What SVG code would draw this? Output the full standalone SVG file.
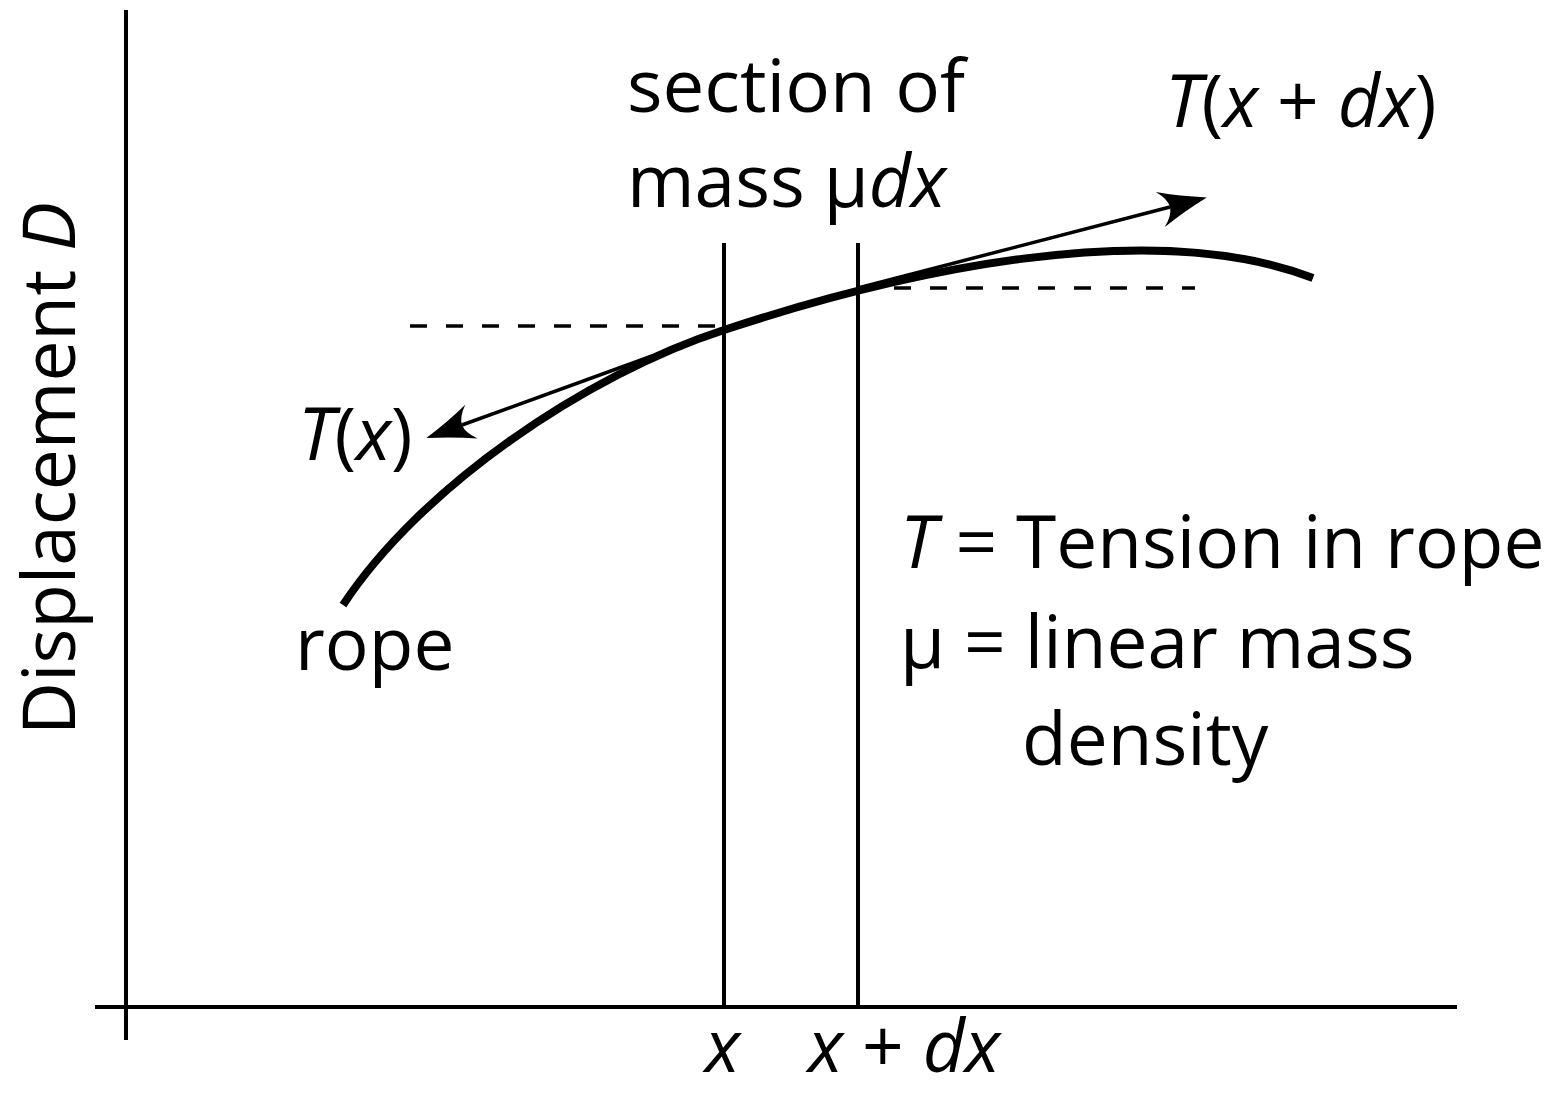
<svg xmlns="http://www.w3.org/2000/svg" width="1554" height="1093" viewBox="0 0 1554 1093">
<style>
.t{font-family:"Open Sans","Liberation Sans",sans-serif;font-size:73px;fill:#000}
.i{font-style:italic}
.ax{stroke:#000;stroke-width:4;fill:none}
.dash{stroke:#000;stroke-width:3.5;stroke-dasharray:17,19;fill:none}
.rope{stroke:#000;stroke-width:8;fill:none}
.vec{stroke:#000;stroke-width:3.5;fill:none;marker-end:url(#ah)}
</style>
<defs>
<marker id="ah" markerUnits="userSpaceOnUse" orient="auto" refX="0" refY="0" markerWidth="60" markerHeight="40" viewBox="-12 -20 52 40" overflow="visible">
<path d="M38,0 Q12,-8 -10,-18 Q0,-8 0,0 Q0,8 -10,18 Q12,8 38,0 Z" fill="#000"/>
</marker>
</defs>
<g id="axes">
<line class="ax" x1="126" y1="10" x2="126" y2="1040"/>
<line class="ax" x1="95" y1="1007" x2="1457" y2="1007"/>
</g>
<g id="section-lines">
<line class="ax" x1="724" y1="243" x2="724" y2="1007"/>
<line class="ax" x1="858" y1="243" x2="858" y2="1007"/>
<line class="dash" x1="410" y1="326" x2="724" y2="326"/>
<line class="dash" x1="858" y1="288" x2="1195" y2="288"/>
</g>
<g id="rope">
<path class="rope" d="M343,605 C420,488 585,375 724,330 C900,272 1150,215 1313,278"/>
</g>
<g id="connectors">
<line class="vec" x1="652" y1="356" x2="462" y2="425"/>
<line class="vec" x1="858" y1="288" x2="1170" y2="207"/>
</g>
<g id="labels">
<text class="t" x="627" y="112" textLength="338" lengthAdjust="spacingAndGlyphs">section of</text>
<text class="t" x="627" y="207">mass μ<tspan class="i">dx</tspan></text>
<text class="t" x="1165" y="127"><tspan class="i">T</tspan>(<tspan class="i">x</tspan> + <tspan class="i">dx</tspan>)</text>
<text class="t" x="298" y="460"><tspan class="i">T</tspan>(<tspan class="i">x</tspan>)</text>
<text class="t" x="295" y="670">rope</text>
<text class="t" x="900" y="568"><tspan class="i">T</tspan> = Tension in rope</text>
<text class="t" x="900" y="668">μ = linear mass</text>
<text class="t" x="1022" y="765">density</text>
<text class="t i" x="705" y="1072">x</text>
<text class="t" x="808" y="1072"><tspan class="i">x</tspan> + <tspan class="i">dx</tspan></text>
<text class="t" transform="translate(75,735) rotate(-90)">Displacement <tspan class="i">D</tspan></text>
</g>
</svg>
